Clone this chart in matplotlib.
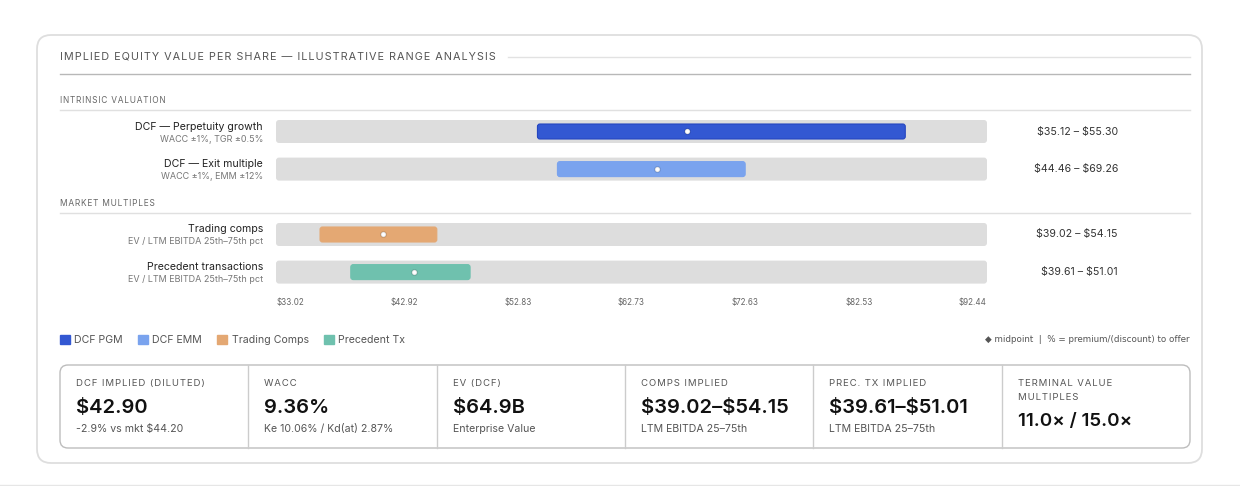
import matplotlib.pyplot as plt
from matplotlib.patches import FancyBboxPatch, Patch

plt.rcParams['font.family'] = ['Inter', 'DejaVu Sans']
plt.rcParams['text.parse_math'] = False

# ---- data ----
section_names = ['INTRINSIC VALUATION', 'MARKET MULTIPLES']
methods = ['DCF — Perpetuity growth', 'DCF — Exit multiple', 'Trading comps', 'Precedent transactions']
method_notes = ['WACC ±1%, TGR ±0.5%', 'WACC ±1%, EMM ±12%',
                'EV / LTM EBITDA 25th–75th pct', 'EV / LTM EBITDA 25th–75th pct']
range_labels = ['$35.12 – $55.30', '$44.46 – $69.26', '$39.02 – $54.15', '$39.61 – $51.01']
bar_low = [54.87, 56.54, 36.70, 39.27]
bar_high = [85.61, 72.23, 46.46, 49.24]
midpoints = [67.36, 64.85, 41.94, 44.58]
axis_min, axis_max = 33.02, 92.44
tick_labels = ['$33.02', '$42.92', '$52.83', '$62.73', '$72.63', '$82.53', '$92.44']
legend_names = ['DCF PGM', 'DCF EMM', 'Trading Comps', 'Precedent Tx']
bar_colors = ['#3358d2', '#7aa3ee', '#e4a873', '#6fc1ae']
card_titles = ['DCF IMPLIED (DILUTED)', 'WACC', 'EV (DCF)', 'COMPS IMPLIED',
               'PREC. TX IMPLIED', 'TERMINAL VALUE\nMULTIPLES']
card_values = ['$42.90', '9.36%', '$64.9B', '$39.02–$54.15', '$39.61–$51.01', '11.0× / 15.0×']
card_notes = ['-2.9% vs mkt $44.20', 'Ke 10.06% / Kd(at) 2.87%', 'Enterprise Value',
              'LTM EBITDA 25–75th', 'LTM EBITDA 25–75th', '']

W, H = 1240, 486


def spaced(s, sep='\u200a'):
    return sep.join(s)


fig = plt.figure(figsize=(W / 100, H / 100), dpi=100)
bg = fig.add_axes([0, 0, 1, 1])
bg.set_xlim(0, W)
bg.set_ylim(H, 0)
bg.axis('off')

# outer card
bg.add_patch(FancyBboxPatch((37, 35), 1165, 428, boxstyle='round,pad=0,rounding_size=14',
                            fc='white', ec='#dedede', lw=1.3))
bg.plot([0, W], [484.5, 484.5], color='#e6e6e6', lw=1)

# title + rules
t = bg.text(60, 57, spaced('IMPLIED EQUITY VALUE PER SHARE — ILLUSTRATIVE RANGE ANALYSIS'),
            fontsize=7.8, color='#555555', va='center', ha='left')
fig.canvas.draw()
bb = t.get_window_extent(fig.canvas.get_renderer())
bg.plot([bb.x1 + 12, 1190], [57, 57], color='#e2e2e2', lw=1)
bg.plot([60, 1190], [74, 74], color='#b8b8b8', lw=1)

sec_y = [100, 203]
for name, y in zip(section_names, sec_y):
    bg.text(60, y, spaced(name), fontsize=6, color='#666666', va='center')
    bg.plot([60, 1190], [y + 10, y + 10], color='#e0e0e0', lw=1)

# range chart, one axes per section
row_px = 37.6
tops = [112.7, 215.7]
x_left, x_right = 276, 987
xscale = (x_right - x_left) / (axis_max - axis_min)
axes = []
for s in range(2):
    top = tops[s]
    ax = fig.add_axes([x_left / W, 1 - (top + 2 * row_px) / H, (x_right - x_left) / W, 2 * row_px / H])
    ax.set_xlim(axis_min, axis_max)
    ax.set_ylim(1.5, -0.5)
    ax.axis('off')
    ax.patch.set_alpha(0)
    axes.append(ax)


def round_bars(ax, bars, r_px, ec=None, lw=0):
    for i, p in enumerate(bars):
        fb = FancyBboxPatch((p.get_x(), p.get_y()), p.get_width(), p.get_height(),
                            boxstyle='round,pad=0,rounding_size=%f' % (r_px / xscale),
                            mutation_aspect=xscale / row_px,
                            fc=p.get_facecolor(), ec=(ec[i] if ec else 'none'), lw=lw,
                            zorder=p.get_zorder())
        p.remove()
        ax.add_patch(fb)


edge_cols = ['#2546c0', '#7aa3ee', '#e4a873', '#6fc1ae']
for s, ax in enumerate(axes):
    idx = [2 * s, 2 * s + 1]
    ypos = [0, 1]
    tracks = ax.barh(ypos, [axis_max - axis_min] * 2, left=axis_min, height=23 / row_px,
                     color='#dddddd', zorder=1)
    round_bars(ax, tracks, 3)
    lows = [bar_low[i] for i in idx]
    widths = [bar_high[i] - bar_low[i] for i in idx]
    bars = ax.barh(ypos, widths, left=lows, height=15 / row_px,
                   color=[bar_colors[i] for i in idx], zorder=2)
    round_bars(ax, bars, 2.5, ec=[edge_cols[i] for i in idx], lw=0.8)
    ax.scatter([midpoints[i] for i in idx], ypos, s=14, c='white',
               edgecolors=(0, 0, 0, 0.12), linewidths=1.2, zorder=5)
    for j, i in enumerate(idx):
        ax.annotate(methods[i], xy=(0, j), xycoords=('axes fraction', 'data'),
                    xytext=(-13, 5), textcoords='offset pixels',
                    ha='right', va='center', fontsize=7.6, color='#222222')
        ax.annotate(method_notes[i], xy=(0, j), xycoords=('axes fraction', 'data'),
                    xytext=(-13, -7.5), textcoords='offset pixels',
                    ha='right', va='center', fontsize=6.5, color='#777777')
        ax.annotate(range_labels[i], xy=(1, j), xycoords=('axes fraction', 'data'),
                    xytext=(131, 0), textcoords='offset pixels',
                    ha='right', va='center', fontsize=7.6, color='#333333')

# value scale labels (spread edge to edge)
lab_w = 29
n = len(tick_labels) - 1
for i, lab in enumerate(tick_labels):
    x = x_left + lab_w / 2 + i * (x_right - x_left - lab_w) / n
    bg.text(x, 302, lab, fontsize=5.8, color='#666666', ha='center', va='center')

# legend
handles = [Patch(fc=c, ec=c) for c in bar_colors]
fig.legend(handles, legend_names, loc='center left', bbox_to_anchor=(60 / W, 1 - 340 / H),
           ncol=4, frameon=False, fontsize=7.6, handlelength=0.9, handleheight=0.9,
           handletextpad=0.45, columnspacing=1.45, labelcolor='#555555', borderaxespad=0,
           borderpad=0)
bg.text(1190, 339, '◆ midpoint  |  % = premium/(discount) to offer', fontsize=6.3,
        color='#555555', ha='right', va='center', family=['DejaVu Sans'])

# summary cards
cx0, cx1, cy0, cy1 = 60, 1190, 365, 448
bg.add_patch(FancyBboxPatch((cx0, cy0), cx1 - cx0, cy1 - cy0, boxstyle='round,pad=0,rounding_size=8',
                            fc='white', ec='#bdbdbd', lw=1))
col_w = (cx1 - cx0) / len(card_titles)
for k in range(len(card_titles)):
    left = cx0 + k * col_w
    if k > 0:
        bg.plot([left, left], [cy0, cy1], color='#cccccc', lw=1)
    lines = card_titles[k].split('\n')
    for li, line in enumerate(lines):
        bg.text(left + 16, 383 + li * 14, spaced(line), fontsize=6.9, color='#555555', va='center')
    if len(lines) > 1:
        bg.text(left + 16, 421, card_values[k], fontsize=13.5, color='#111111', va='center',
                fontweight='semibold')
    else:
        bg.text(left + 16, 408, card_values[k], fontsize=14.5, color='#111111', va='center',
                fontweight='semibold')
    if card_notes[k]:
        bg.text(left + 16, 429, card_notes[k], fontsize=7.6, color='#555555', va='center')

fig.savefig('out.png', dpi=100, facecolor='white')
